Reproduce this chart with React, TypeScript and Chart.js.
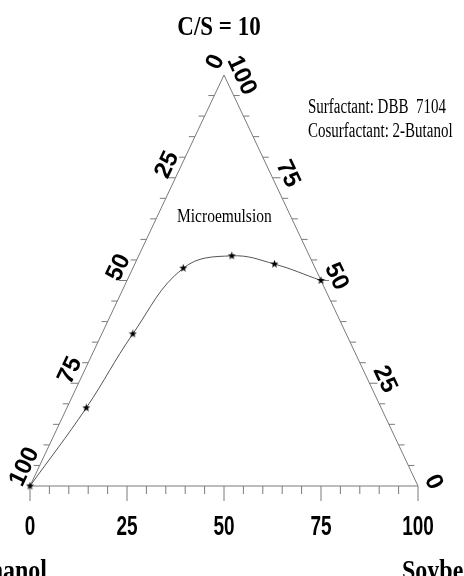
import React, { useEffect, useRef } from "react";
import { Chart, registerables } from "chart.js";

Chart.register(...registerables);

// Composition (%) of the phase boundary points
const ethanol = [100, 76, 55, 34, 20, 10, 0];
const soybeanOil = [0, 5, 8, 13, 24, 36, 50];
const surfactantMix = [0, 19, 37, 53, 56, 54, 50];

const majorTicks = [0, 25, 50, 75, 100];
const minorStep = 5;

const titleText = "C/S = 10";
const noteLines = ["Surfactant: DBB  7104", "Cosurfactant: 2-Butanol"];
const regionLabel = "Microemulsion";
const leftVertexLabel = "Ethanol";
const rightVertexLabel = "Soybean oil";

function toXY(oil: number, mix: number) {
  return { x: oil + mix / 2, y: mix };
}

function drawText(
  ctx: CanvasRenderingContext2D,
  text: string,
  x: number,
  y: number,
  font: string,
  align: CanvasTextAlign,
  baseline: CanvasTextBaseline,
  rot = 0,
  sy = 1
) {
  ctx.save();
  ctx.translate(x, y);
  ctx.rotate(rot);
  ctx.scale(1, sy);
  ctx.font = font;
  ctx.textAlign = align;
  ctx.textBaseline = baseline;
  ctx.fillStyle = "#000";
  ctx.fillText(text, 0, 0);
  ctx.restore();
}

export default function App() {
  const ref = useRef<HTMLCanvasElement>(null);

  useEffect(() => {
    if (!ref.current) return;
    const star = document.createElement("canvas");
    star.width = 9;
    star.height = 9;
    const sc = star.getContext("2d")!;
    sc.fillStyle = "#000";
    sc.beginPath();
    for (let i = 0; i < 10; i++) {
      const r = i % 2 === 0 ? 4.2 : 1.7;
      const a = -Math.PI / 2 + (i * Math.PI) / 5;
      const px = 4.5 + r * Math.cos(a);
      const py = 4.5 + r * Math.sin(a);
      if (i === 0) sc.moveTo(px, py);
      else sc.lineTo(px, py);
    }
    sc.closePath();
    sc.fill();

    const points = ethanol.map((_, i) => toXY(soybeanOil[i], surfactantMix[i]));

    const ternary = {
      id: "ternary",
      beforeDatasetsDraw(chart: any) {
        const ctx: CanvasRenderingContext2D = chart.ctx;
        const xs = chart.scales.x;
        const ys = chart.scales.y;
        const P = (oil: number, mix: number) => {
          const p = toXY(oil, mix);
          return [xs.getPixelForValue(p.x), ys.getPixelForValue(p.y)];
        };
        const L = P(0, 0);
        const R = P(100, 0);
        const T = P(0, 100);
        ctx.save();
        ctx.strokeStyle = "#7a7a7a";
        ctx.lineWidth = 1;
        ctx.beginPath();
        ctx.moveTo(L[0], L[1]);
        ctx.lineTo(R[0], R[1]);
        ctx.lineTo(T[0], T[1]);
        ctx.closePath();
        ctx.stroke();

        ctx.beginPath();
        for (let v = 0; v <= 100; v += minorStep) {
          const major = majorTicks.includes(v);
          // bottom axis (soybean oil)
          const b = P(v, 0);
          ctx.moveTo(b[0], b[1]);
          ctx.lineTo(b[0], b[1] + (major ? 15 : 8));
          if (v > 0 && v < 100) {
            // left edge (ethanol)
            const l = P(0, 100 - v);
            ctx.moveTo(l[0], l[1]);
            ctx.lineTo(l[0] - (major ? 8 : 6), l[1]);
            // right edge (surfactant mix)
            const r = P(100 - v, v);
            ctx.moveTo(r[0], r[1]);
            ctx.lineTo(r[0] + (major ? 8 : 6), r[1]);
          }
        }
        ctx.stroke();
        ctx.restore();
      },
      afterDraw(chart: any) {
        const ctx: CanvasRenderingContext2D = chart.ctx;
        const xs = chart.scales.x;
        const ys = chart.scales.y;
        const P = (oil: number, mix: number) => {
          const p = toXY(oil, mix);
          return [xs.getPixelForValue(p.x), ys.getPixelForValue(p.y)];
        };
        const L = P(0, 0);
        const R = P(100, 0);
        const T = P(0, 100);
        const tickFont = "bold 24px 'Liberation Sans', Arial, sans-serif";

        // bottom labels
        majorTicks.forEach((v) => {
          const b = P(v, 0);
          drawText(ctx, String(v), b[0], b[1] + 49, "bold 19px 'Liberation Sans', Arial, sans-serif", "center", "alphabetic", 0, 1.42);
        });

        // left edge labels
        const ldx = T[0] - L[0];
        const ldy = T[1] - L[1];
        const llen = Math.hypot(ldx, ldy);
        const lu = [ldx / llen, ldy / llen];
        const ln = [lu[1], -lu[0]];
        const lrot = Math.atan2(ldy, ldx);
        majorTicks.forEach((v) => {
          const p = P(0, 100 - v);
          const along = v === 100 ? 15 : 8;
          const cx = p[0] + lu[0] * along + ln[0] * 13;
          const cy = p[1] + lu[1] * along + ln[1] * 13;
          drawText(ctx, String(v), cx, cy, tickFont, "center", "middle", lrot);
        });

        // right edge labels
        const rdx = R[0] - T[0];
        const rdy = R[1] - T[1];
        const rlen = Math.hypot(rdx, rdy);
        const ru = [rdx / rlen, rdy / rlen];
        const rn = [ru[1], -ru[0]];
        const rrot = Math.atan2(rdy, rdx);
        majorTicks.forEach((v) => {
          const p = P(100 - v, v);
          const along = v === 100 ? 8 : 3;
          const cx = p[0] + ru[0] * along + rn[0] * 15.5;
          const cy = p[1] + ru[1] * along + rn[1] * 15.5;
          drawText(ctx, String(v), cx, cy, tickFont, "center", "middle", rrot);
        });

        // texts
        drawText(ctx, titleText, 219, 35, "bold 23px 'Liberation Serif', 'Times New Roman', serif", "center", "alphabetic", 0, 1.2);
        drawText(ctx, noteLines[0], 308, 113, "15px 'Liberation Serif', 'Times New Roman', serif", "left", "alphabetic", 0, 1.33);
        drawText(ctx, noteLines[1], 308, 137, "15px 'Liberation Serif', 'Times New Roman', serif", "left", "alphabetic", 0, 1.33);
        drawText(ctx, regionLabel, 177, 222, "15.5px 'Liberation Serif', 'Times New Roman', serif", "left", "alphabetic", 0, 1.25);
        drawText(ctx, leftVertexLabel, 47, 580, "bold 24px 'Liberation Serif', 'Times New Roman', serif", "right", "alphabetic", 0, 1.2);
        drawText(ctx, rightVertexLabel, 402, 580, "bold 24px 'Liberation Serif', 'Times New Roman', serif", "left", "alphabetic", 0, 1.2);
      },
    };

    const chart = new Chart(ref.current, {
      type: "scatter",
      data: {
        datasets: [
          {
            data: points,
            showLine: true,
            borderColor: "#555",
            borderWidth: 1,
            tension: 0.4,
            pointStyle: star as any,
            pointRadius: 4,
            clip: false as any,
          },
        ],
      },
      options: {
        responsive: false,
        animation: false,
        events: [],
        layout: { padding: { left: 30, right: 46, top: 75, bottom: 90 } },
        scales: {
          x: { type: "linear", min: 0, max: 100, display: false },
          y: { type: "linear", min: 0, max: 100, display: false },
        },
        plugins: { legend: { display: false }, tooltip: { enabled: false } },
      },
      plugins: [ternary],
    });
    return () => chart.destroy();
  }, []);

  return (
    <div style={{ position: "fixed", left: 0, top: 0, width: 464, height: 576, background: "#fff" }}>
      <canvas ref={ref} width={464} height={576} style={{ display: "block" }} />
    </div>
  );
}
